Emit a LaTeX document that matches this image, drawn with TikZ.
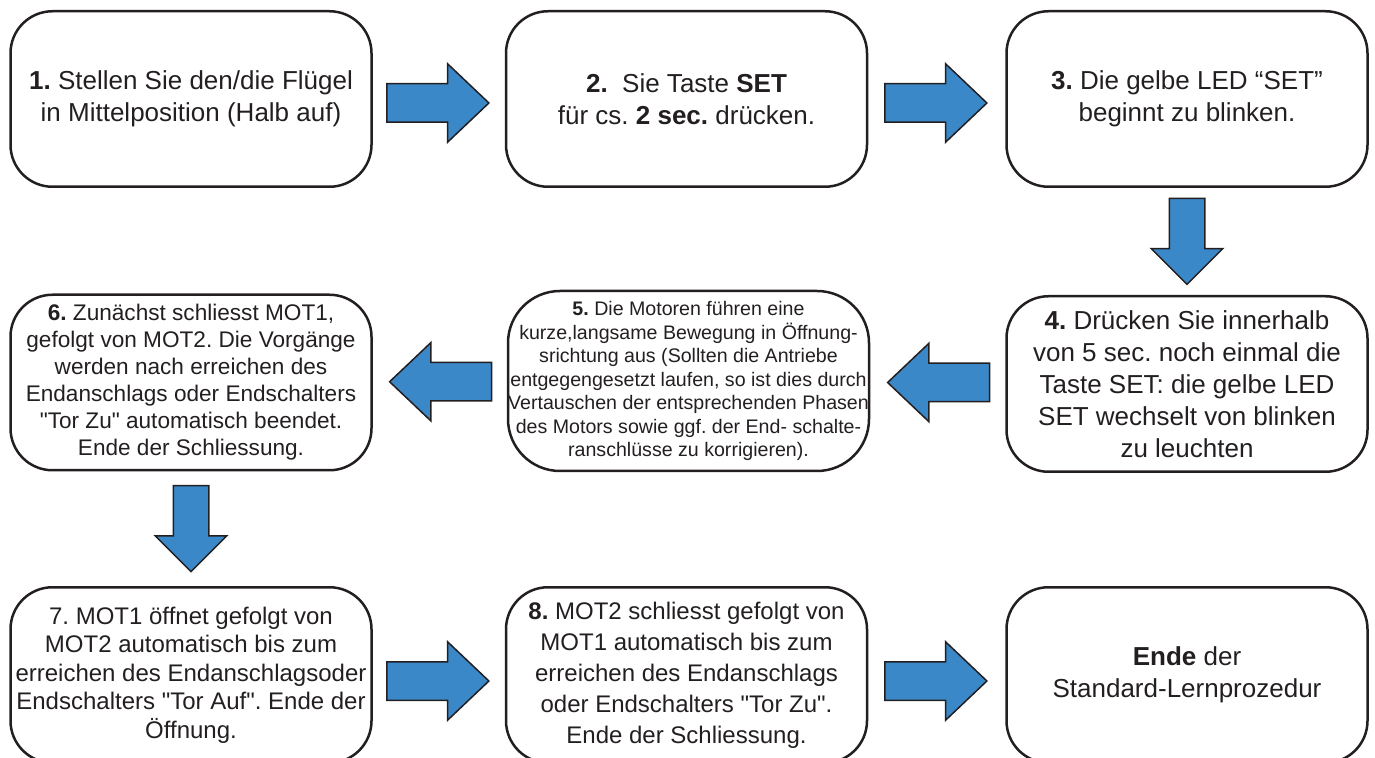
\documentclass[tikz,border=0pt]{standalone}
\usepackage{fontspec}
\setmainfont{Liberation Sans}
\usetikzlibrary{shapes.arrows}
\definecolor{arrowblue}{HTML}{3A88C8}
\definecolor{inkline}{HTML}{231F20}
\frenchspacing

\begin{document}
\begin{tikzpicture}[x=0.5pt,y=-0.5pt,
    box/.style={draw=inkline, line width=1.25pt, rounded corners=21pt, minimum width=180.5pt,
        minimum height=87.75pt, align=center, inner sep=0pt, text=inkline, font=\fontsize{13}{16}\selectfont},
    harrow/.style={single arrow, draw=inkline, fill=arrowblue, line width=0.75pt, inner sep=0pt, inner ysep=9.25pt,
        minimum height=51pt, single arrow head extend=10pt, single arrow tip angle=87},
    varrow/.style={harrow, inner ysep=8.5pt, minimum height=43pt, single arrow head extend=9pt,
        single arrow tip angle=90, rotate=-90, xshift=-4.5pt}]
\useasboundingbox (0,0) rectangle (1375,758);
% first row
\node[box] (s1) at (191,99) {\textbf{1.} Stellen Sie den/die Flügel\\in Mittelposition (Halb auf)};
\node[box] (s2) at (686.5,99) {\textbf{2.}~ Sie Taste \textbf{SET}\\für cs. \textbf{2 sec.} drücken.};
\node[box] (s3) at (1187,99) {\textbf{3.} Die gelbe LED “SET”\\beginnt zu blinken.};
% second row
\node[box] (s4) at (1187,384) {\textbf{4.} Drücken Sie innerhalb\\von 5 sec. noch einmal die\\Taste SET: die gelbe LED\\SET wechselt von blinken\\zu leuchten};
\node[box, rounded corners=26pt, minimum height=90pt, font=\fontsize{9.8}{11.75}\selectfont] (s5) at (688.5,381)
    {\textbf{5.} Die Motoren führen eine\\kurze,langsame Bewegung in Öffnung-\\srichtung aus (Sollten die Antriebe\\entgegengesetzt laufen, so ist dies durch\\Vertauschen der entsprechenden Phasen\\des Motors sowie ggf. der End- schalte-\\ranschlüsse zu korrigieren).};
\node[box, font=\fontsize{11.3}{13.5}\selectfont] (s6) at (191,382.5)
    {\textbf{6.} Zunächst schliesst MOT1,\\gefolgt von MOT2. Die Vorgänge\\werden nach erreichen des\\Endanschlags oder Endschalters\\\textquotedbl Tor Zu\textquotedbl{} automatisch beendet.\\Ende der Schliessung.};
% third row (cut off at the bottom)
\node[box, font=\fontsize{12}{14.25}\selectfont] (s7) at (191,675)
    {7. MOT1 öffnet gefolgt von\\MOT2 automatisch bis zum\\erreichen des Endanschlagsoder\\Endschalters \textquotedbl Tor Auf\textquotedbl. Ende der\\Öffnung.};
\node[box, font=\fontsize{12}{15.5}\selectfont] (s8) at (686.5,675)
    {\textbf{8.} MOT2 schliesst gefolgt von\\MOT1 automatisch bis zum\\erreichen des Endanschlags\\oder Endschalters \textquotedbl Tor Zu\textquotedbl.\\Ende der Schliessung.};
\node[box] (s9) at (1187,675) {\textbf{Ende} der\\Standard-Lernprozedur};
% block arrows: from/to/rotation/shift down
\foreach \a/\b/\r/\d in {s1/s2/0/2, s2/s3/0/2, s4/s5/180/0, s5/s6/180/0, s7/s8/0/3, s8/s9/0/3}
    \path (\a) -- node[harrow, yshift=-\d pt, rotate=\r, xshift=-5.5pt] (\a\b) {} (\b);
\path (s3) -- node[varrow] (s3s4) {} (s4);
\path (s6) -- node[varrow] (s6s7) {} (s7);
\end{tikzpicture}
\end{document}
